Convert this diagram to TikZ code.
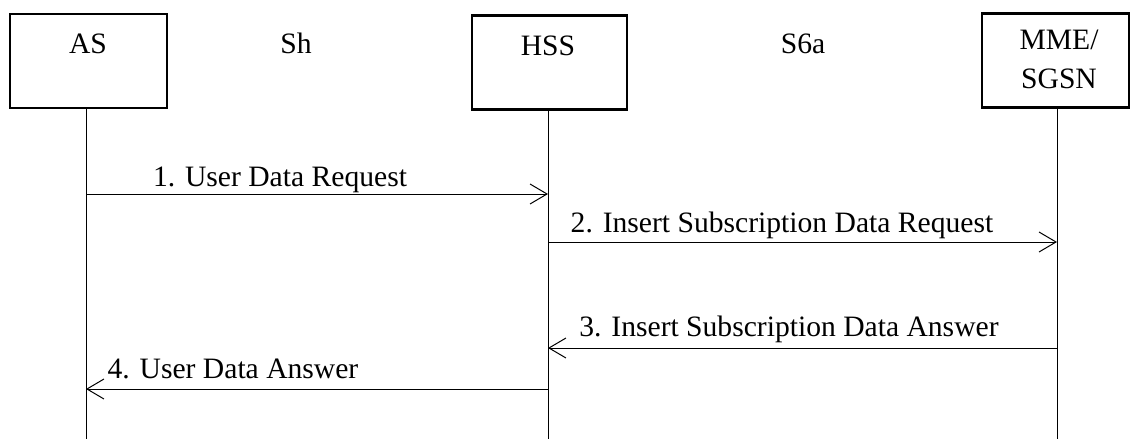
\documentclass[tikz,border=0pt]{standalone}
\usepackage{fontspec}
\setmainfont{Liberation Serif}
\usetikzlibrary{arrows.meta}

\begin{document}
\begin{tikzpicture}[x=1pt, y=-1pt,
    entity/.style={draw, line width=2.2pt, minimum height=94, inner sep=0pt},
    life/.style={line width=1pt},
    msg/.style={line width=1pt, -{Straight Barb[length=17pt, width=20pt, line width=1pt]}},
    lbl/.style={anchor=base, inner sep=0pt, font=\fontsize{29.6}{39}\selectfont}]
	\useasboundingbox (0,0) rectangle (1130,439);

	% entities
	\node[entity, minimum width=157] (AS) at (88.5,61) {};
	\node[entity, minimum width=155] (HSS) at (549.5,62.5) {};
	\node[entity, minimum width=147] (MME) at (1055.5,60.5) {};
	\node[lbl] (AStxt) at (88,53) {AS};
	\node[lbl] (HSStxt) at (548,55) {HSS};
	\node[lbl] (MMEtxt) at (1059,49) {MME/};
	\node[lbl] (SGSNtxt) at (1059,88) {SGSN};

	% interfaces
	\node[lbl] (Sh) at (296,53) {Sh};
	\node[lbl] (S6a) at (803,53) {S6a};

	% lifelines
	\coordinate (ASend) at (86,439);
	\coordinate (HSSend) at (548,439);
	\coordinate (MMEend) at (1057,439);
	\draw[life] (ASend |- AS.south) -- (ASend);
	\draw[life] (HSSend |- HSS.south) -- (HSSend);
	\draw[life] (MMEend |- MME.south) -- (MMEend);

	% messages
	\coordinate (as1) at (86,194);
	\coordinate (hss1) at (548,194);
	\coordinate (hss2) at (548,242);
	\coordinate (mme2) at (1057,242);
	\coordinate (mme3) at (1057,348);
	\coordinate (hss3) at (548,348);
	\coordinate (hss4) at (548,389);
	\coordinate (as4) at (86,389);

	\draw[msg] (as1) -- (hss1);
	\draw[msg] (hss2) -- (mme2);
	\draw[msg] (mme3) -- (hss3);
	\draw[msg] (hss4) -- (as4);

	\node[lbl] (m1) at (280,186) {1. User Data Request};
	\node[lbl] (m2) at (782,232) {2. Insert Subscription Data Request};
	\node[lbl] (m3) at (789,336) {3. Insert Subscription Data Answer};
	\node[lbl] (m4) at (233,378) {4. User Data Answer};
\end{tikzpicture}
\end{document}
